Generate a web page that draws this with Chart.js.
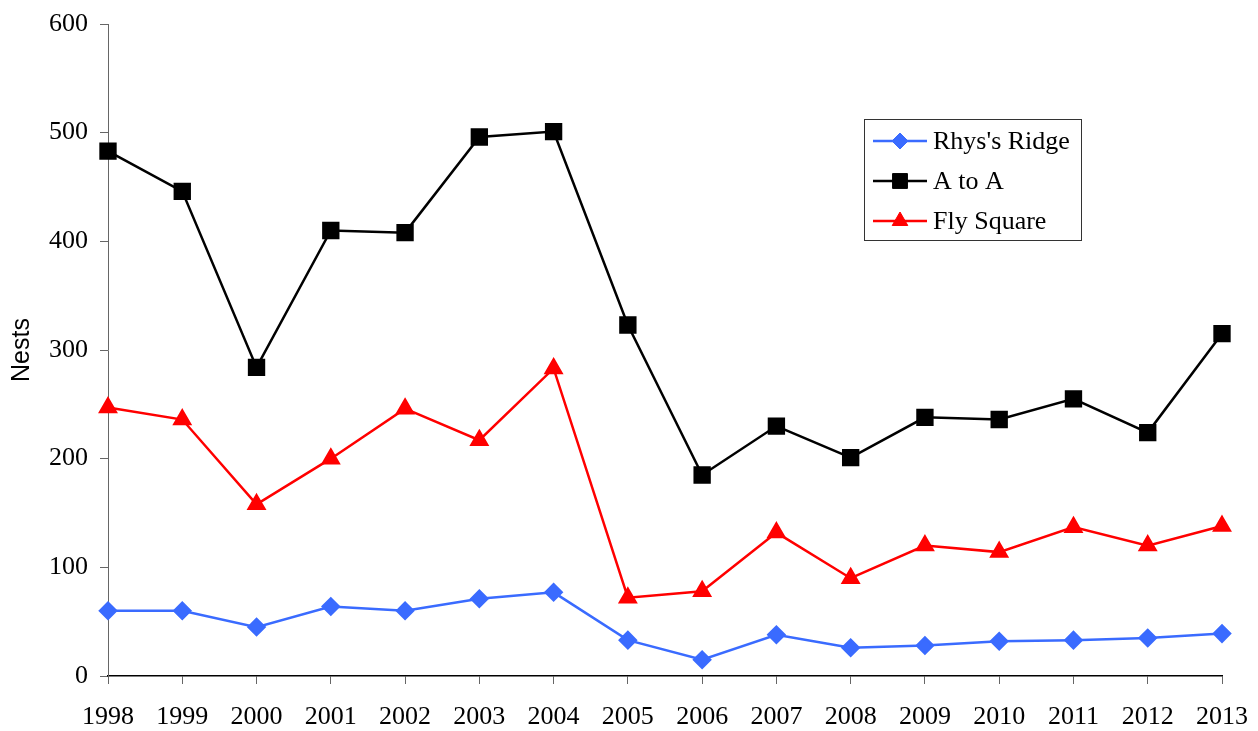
<!DOCTYPE html>
<html>
    <head>
        <meta charset="UTF-8"/>
        <title>Nests</title>
        <script src="https://cdn.jsdelivr.net/npm/chart.js@4.4.1/dist/chart.umd.min.js"></script>
        <style>
            body { margin: 0; background: #fff; }
            #wrap { width: 1258px; height: 731px; }
        </style>
    </head>
    <body>
        <div id="wrap"><canvas id="chart" width="1258" height="731"></canvas></div>
        <script>
            const years = ['1998','1999','2000','2001','2002','2003','2004','2005','2006','2007','2008','2009','2010','2011','2012','2013'];
            const rhysRidge = [60, 60, 45, 64, 60, 71, 77, 33, 15, 38, 26, 28, 32, 33, 35, 39];
            const aToA = [483, 446, 284, 410, 408, 496, 501, 323, 185, 230, 201, 238, 236, 255, 224, 315];
            const flySquare = [247, 236, 158, 200, 246, 217, 283, 72, 78, 132, 90, 120, 114, 137, 120, 138];
            const yTicks = [0, 100, 200, 300, 400, 500, 600];

            const serif = 'Liberation Serif';

            // legend drawn inside the plot, top right, as a boxed list
            const boxLegend = {
                id: 'boxLegend',
                afterDraw(chart) {
                    const ctx = chart.ctx;
                    const x0 = 864.5, y0 = 119.5, w = 217, h = 121;
                    ctx.save();
                    ctx.fillStyle = '#fff';
                    ctx.fillRect(x0, y0, w, h);
                    ctx.strokeStyle = '#333';
                    ctx.lineWidth = 1;
                    ctx.strokeRect(x0, y0, w, h);
                    chart.data.datasets.forEach((ds, i) => {
                        const y = 141 + i * 40;
                        ctx.strokeStyle = ds.borderColor;
                        ctx.lineWidth = ds.borderWidth;
                        ctx.beginPath();
                        ctx.moveTo(873, y);
                        ctx.lineTo(927, y);
                        ctx.stroke();
                        ctx.fillStyle = ds.pointBackgroundColor;
                        ctx.strokeStyle = ds.pointBorderColor;
                        ctx.lineWidth = 1;
                        Chart.helpers.drawPoint(ctx, {pointStyle: ds.pointStyle, radius: ds.pointRadius, rotation: 0, borderWidth: 1}, 900, y);
                        ctx.fillStyle = '#000';
                        ctx.font = '26px "' + serif + '"';
                        ctx.textBaseline = 'middle';
                        ctx.textAlign = 'left';
                        ctx.fillText(ds.label, 933, y + 1);
                    });
                    ctx.restore();
                }
            };

            const ctx = document.getElementById('chart').getContext('2d');
            new Chart(ctx, {
                type: 'line',
                data: {
                    labels: years,
                    datasets: [
                        {
                            label: "Rhys's Ridge",
                            data: rhysRidge,
                            borderColor: '#3a6bff',
                            backgroundColor: '#3a6bff',
                            pointBackgroundColor: '#3a6bff',
                            pointBorderColor: '#3a6bff',
                            borderWidth: 2.5,
                            pointStyle: 'rectRot',
                            pointRadius: 8,
                            tension: 0
                        },
                        {
                            label: 'A to A',
                            data: aToA,
                            borderColor: '#000',
                            backgroundColor: '#000',
                            pointBackgroundColor: '#000',
                            pointBorderColor: '#000',
                            borderWidth: 2.5,
                            pointStyle: 'rect',
                            pointRadius: 10.5,
                            tension: 0
                        },
                        {
                            label: 'Fly Square',
                            data: flySquare,
                            borderColor: '#ff0000',
                            backgroundColor: '#ff0000',
                            pointBackgroundColor: '#ff0000',
                            pointBorderColor: '#ff0000',
                            borderWidth: 2.5,
                            pointStyle: 'triangle',
                            pointRadius: 9,
                            tension: 0
                        }
                    ]
                },
                options: {
                    responsive: false,
                    animation: false,
                    layout: { padding: { left: 0, top: 24, right: 36, bottom: 0 } },
                    plugins: {
                        legend: { display: false },
                        tooltip: { enabled: false }
                    },
                    scales: {
                        x: {
                            offset: false,
                            grid: { display: true, drawOnChartArea: false, drawTicks: true, tickLength: 8, color: '#666' },
                            border: { color: '#000', width: 1.5 },
                            ticks: {
                                color: '#000',
                                font: { family: serif, size: 26 },
                                maxRotation: 0,
                                autoSkip: false,
                                padding: 18
                            },
                            afterFit(scale) {
                                scale.height = 55;
                                scale.paddingLeft = 0;
                                scale.paddingRight = 0;
                            }
                        },
                        y: {
                            min: 0,
                            max: 600,
                            afterBuildTicks(scale) { scale.ticks = yTicks.map(v => ({ value: v })); },
                            grid: { display: true, drawOnChartArea: false, drawTicks: true, tickLength: 8, color: '#666' },
                            border: { color: '#666', width: 1 },
                            ticks: {
                                color: '#000',
                                font: { family: serif, size: 26 },
                                padding: 12
                            },
                            title: {
                                display: true,
                                text: 'Nests',
                                color: '#000',
                                font: { family: 'Liberation Sans', size: 25 },
                                padding: { top: 7, bottom: 30 }
                            },
                            afterFit(scale) {
                                scale.width = 108;
                                scale.paddingTop = 0;
                                scale.paddingBottom = 0;
                            }
                        }
                    }
                },
                plugins: [boxLegend]
            });
        </script>
    </body>
</html>
